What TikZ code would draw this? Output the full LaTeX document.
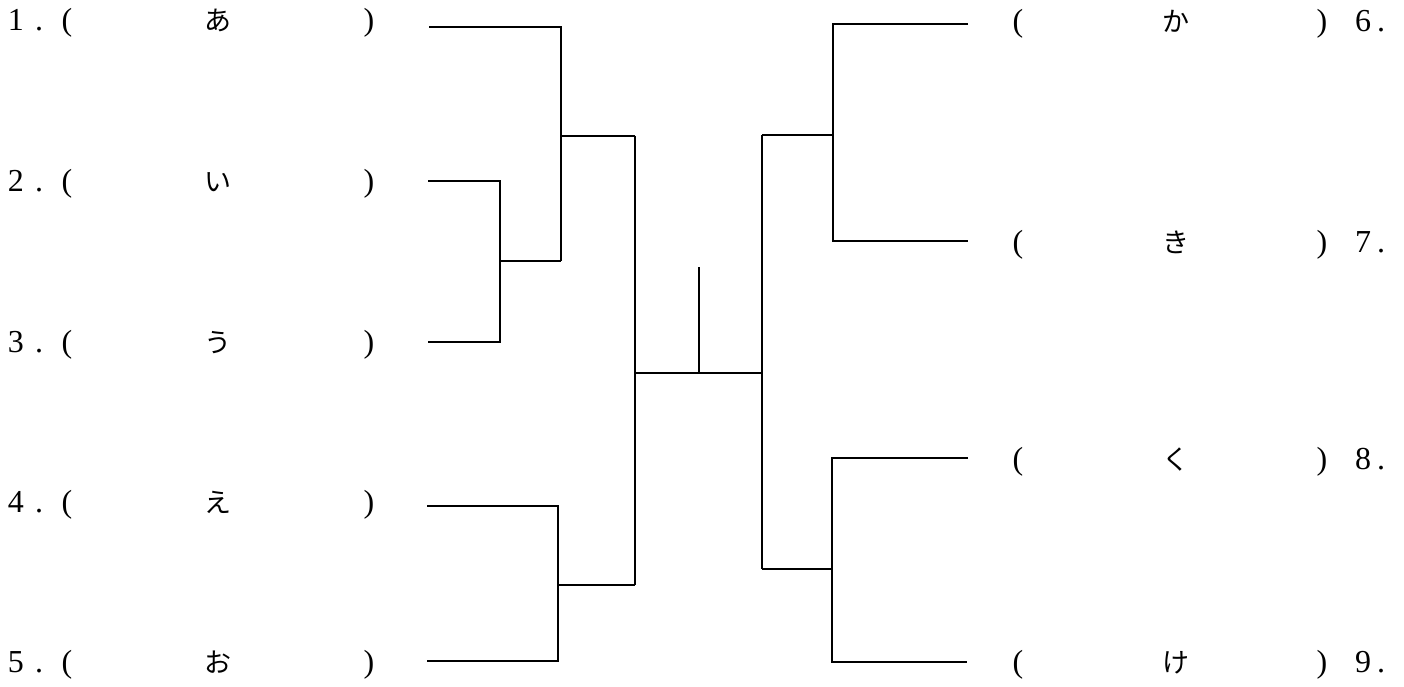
\documentclass[tikz,border=0pt]{standalone}
\usepackage{fontspec}
\setmainfont{Liberation Serif}
\newfontfamily\jp{Noto Sans CJK JP}
\begin{document}
\begin{tikzpicture}[x=1pt,y=-1pt,
 txt/.style={anchor=base, inner sep=0pt, font=\fontsize{32}{32}\selectfont},
 kana/.style={anchor=base, inner sep=0pt, font=\jp\fontsize{27}{27}\selectfont},
 br/.style={draw=black, line width=1.6pt, line join=miter}]
\useasboundingbox (0,0) rectangle (1404,687);
% left labels
\foreach \n/\k/\y in {1/あ/31, 2/い/192, 3/う/352, 4/え/512, 5/お/672} {
 \node[txt] (n\n) at (16,\y) {\n};
 \node[txt] (d\n) at (39,\y) {.};
 \node[txt] (o\n) at (67,\y) {(};
 \node[kana] (k\n) at (218,\y) {\k};
 \node[txt] (c\n) at (369,\y) {)};
}
% right labels
\foreach \n/\k/\y in {6/か/32, 7/き/252, 8/く/469, 9/け/672} {
 \node[txt] (o\n) at (1018,\y) {(};
 \node[kana] (k\n) at (1176,\y) {\k};
 \node[txt] (c\n) at (1322,\y) {)};
 \node[txt] (n\n) at (1363,\y) {\n};
 \node[txt] (d\n) at (1381,\y) {.};
}
% bracket end points
\coordinate (L1) at (429,27);
\coordinate (L2) at (428,181);
\coordinate (L3) at (428,342);
\coordinate (L4) at (427,506);
\coordinate (L5) at (427,661);
\coordinate (R6) at (968,24);
\coordinate (R7) at (968,241);
\coordinate (R8) at (968,458);
\coordinate (R9) at (967,662);
% joins
\coordinate (J23a) at (500,181);
\coordinate (J23b) at (500,342);
\coordinate (J23) at (500,261);
\coordinate (J1a) at (561,27);
\coordinate (J1b) at (561,261);
\coordinate (J123) at (561,136);
\coordinate (J45a) at (558,506);
\coordinate (J45b) at (558,661);
\coordinate (J45) at (558,585);
\coordinate (CLt) at (635,136);
\coordinate (CLb) at (635,585);
\coordinate (CL) at (635,373);
\coordinate (CR) at (762,373);
\coordinate (ST) at (699,373);
\coordinate (STt) at (699,267);
\coordinate (CRt) at (762,135);
\coordinate (CRb) at (762,569);
\coordinate (J67a) at (833,24);
\coordinate (J67b) at (833,241);
\coordinate (J67) at (833,135);
\coordinate (J89a) at (832,458);
\coordinate (J89b) at (832,662);
\coordinate (J89) at (832,569);
% left bracket
\draw[br] (L2) -- (J23a) -- (J23b) -- (L3);
\draw[br] (J23) -- (J1b);
\draw[br] (L1) -- (J1a) -- (J1b);
\draw[br] (J123) -- (CLt);
\draw[br] (L4) -- (J45a) -- (J45b) -- (L5);
\draw[br] (J45) -- (CLb);
\draw[br] (CLt) -- (CLb);
% center
\draw[br] (CL) -- (CR);
\draw[br] (ST) -- (STt);
% right bracket
\draw[br] (CRt) -- (CRb);
\draw[br] (CRt) -- (J67);
\draw[br] (R6) -- (J67a) -- (J67b) -- (R7);
\draw[br] (CRb) -- (J89);
\draw[br] (R8) -- (J89a) -- (J89b) -- (R9);
\end{tikzpicture}
\end{document}
